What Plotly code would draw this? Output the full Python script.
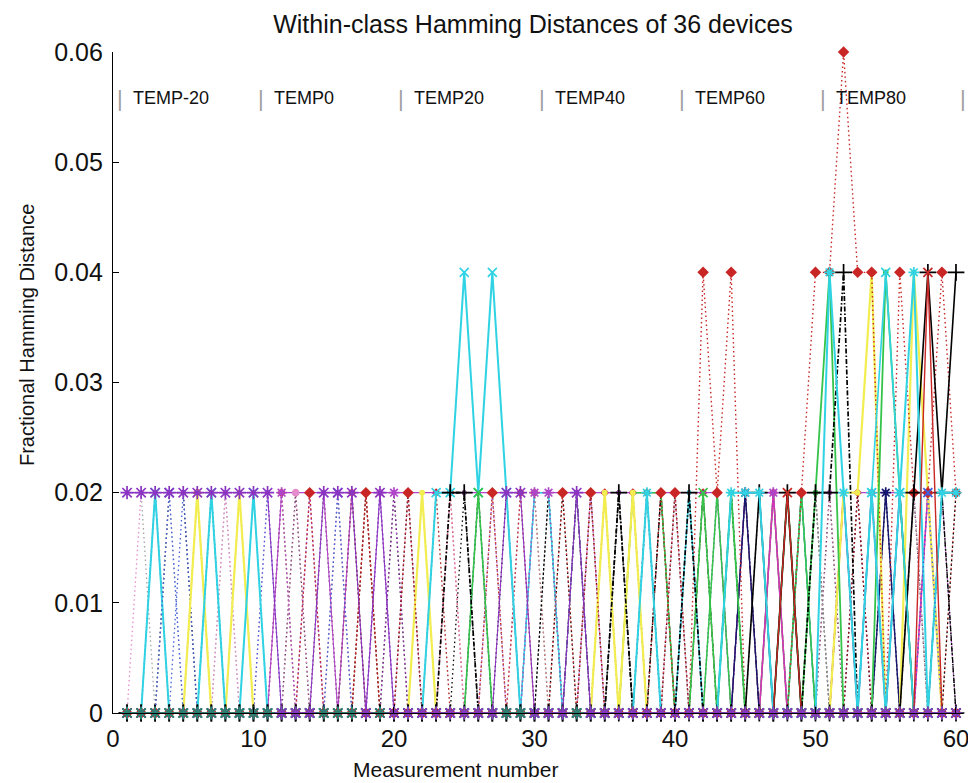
import plotly.graph_objects as go

# ---------------- data ----------------
measurement = list(range(1, 61))

y_ticks = [0, 0.01, 0.02, 0.03, 0.04, 0.05, 0.06]
y_ticktext = ["0", "0.01", "0.02", "0.03", "0.04", "0.05", "0.06"]
x_ticks = [0, 10, 20, 30, 40, 50, 60]

temp_names = ["TEMP-20", "TEMP0", "TEMP20", "TEMP40", "TEMP60", "TEMP80"]
temp_bounds = [0.5, 10.5, 20.5, 30.5, 40.5, 50.5, 60.5]

# fractional Hamming distance per device (36 devices x 60 measurements)
dev01 = [.02,.02,0,0,0,0,0,.02,0,0, 0,0,0,.02,0,0,0,0,0,0, 0,.02,0,0,0,0,0,0,.02,0,
         0,0,.02,0,0,0,0,0,0,.02, 0,0,0,0,0,.02,0,0,0,0, 0,.02,0,0,0,0,0,0,0,0]
dev02 = [0,.02,.02,0,0,0,0,0,0,0, .02,0,0,0,0,.02,0,0,0,0, .02,0,0,0,0,.02,0,0,0,0,
         0,0,0,0,.02,0,0,0,0,0, 0,0,.02,0,0,0,0,0,.02,0, 0,0,0,0,.02,0,0,0,0,0]
dev03 = [0,0,0,.02,.02,0,0,0,0,0, 0,0,.02,0,0,0,.02,0,0,0, 0,0,0,0,.02,0,0,0,0,0,
         .02,0,0,0,0,.02,0,.02,0,0, 0,0,0,.02,0,0,0,0,0,0, .02,0,0,0,0,.02,0,0,0,0]
dev04 = [0,0,.02,0,0,0,0,0,.02,0, 0,0,0,.02,0,0,0,0,.02,0, 0,0,0,0,0,0,.02,0,0,0,
         0,0,0,.02,0,0,0,0,0,0, .02,0,0,0,.02,0,0,0,0,0, 0,0,.02,0,0,0,0,0,.02,0]
dev05 = [0,0,0,0,0,.02,0,0,0,0, 0,.02,0,0,0,0,0,.02,0,0, 0,0,0,.02,0,0,0,0,0,.02,
         0,0,0,0,0,0,.02,0,0,0, 0,.02,0,0,0,0,.02,0,0,0, 0,0,0,.02,0,0,0,0,0,.02]
dev06 = [0,0,0,0,0,0,.02,0,0,0, 0,0,0,0,.02,0,0,0,0,.02, 0,0,0,0,0,0,0,.02,0,0,
         0,.02,0,0,0,0,0,0,.02,0, 0,0,0,.02,0,0,0,.02,0,0, 0,0,.02,0,0,0,.02,0,0,0]
dev07 = [0,0,0,0,0,0,0,0,0,.02, 0,0,0,0,0,.02,0,0,0,0, 0,0,.02,0,0,0,0,0,0,.02,
         0,0,0,0,.02,0,0,0,0,0, .02,0,0,0,0,.02,0,0,0,.02, 0,0,0,0,.02,0,0,.02,0,0]
dev08 = [0,0,0,0,0,0,0,0,0,0, 0,0,0,0,0,0,0,0,0,0, 0,0,0,0,0,0,0,0,0,0,
         0,0,.02,0,0,.02,0,0,.02,0, 0,.02,0,0,.02,0,0,0,.02,0, 0,.02,0,0,0,.02,0,0,.02,0]
dev09 = [0,0,0,0,.02,0,0,0,0,0, .02,0,0,0,0,0,0,0,.02,0, 0,0,0,0,0,.02,0,0,0,0,
         0,0,.02,0,0,0,0,.02,0,0, 0,0,.02,0,0,0,0,.02,0,0, 0,0,0,.02,0,0,0,0,0,0]
dev10 = [0,0,0,0,0,0,0,.02,0,0, 0,0,0,0,.02,0,0,0,0,0, 0,0,0,.02,0,0,0,0,.02,0,
         0,0,0,.02,0,0,0,0,0,.02, 0,0,0,0,0,0,.02,0,0,0, .02,0,0,0,0,0,.02,0,0,0]
dev11 = [0,0,0,0,0,0,0,0,0,0, 0,0,0,0,0,0,0,0,0,0, .02,0,0,0,0,.02,0,0,0,0,
         .02,0,0,0,0,0,.02,0,0,0, 0,0,0,.02,0,0,0,0,0,.02, 0,0,0,0,.02,0,0,0,0,.02]
dev12 = [0,0,0,0,0,0,0,0,0,0, 0,0,0,0,0,0,.02,0,0,0, 0,0,.02,0,0,0,0,0,.02,0,
         0,0,0,0,.02,0,0,.02,0,0, 0,0,0,0,.02,0,0,0,.02,0, 0,0,.02,0,0,0,0,.02,0,0]
dev13 = [0,0,0,.02,0,0,0,0,0,0, 0,.02,0,0,0,0,0,0,0,0, 0,0,0,0,0,0,.02,0,0,0,
         0,0,0,0,0,.02,0,0,0,0, 0,0,.02,0,0,0,0,0,0,.02, 0,0,0,0,0,0,.02,0,0,0]
dev14 = [0,0,0,0,0,0,0,0,0,0, 0,0,0,0,0,0,0,.02,0,0, 0,0,0,0,0,0,0,0,0,0,
         0,0,0,.02,0,0,0,0,0,.02, 0,0,0,0,0,0,.02,0,0,0, 0,.02,0,0,0,0,0,0,.02,0]
dev15 = [0,0,0,0,0,0,0,0,0,0, 0,.02,.02,.02,.02,0,.02,.02,.02,.02, .02,.02,.02,.02,.02,.02,.02,.02,0,.02,
         .02,.02,.02,.02,.02,.02,.02,.02,.02,.02, .02,.02,.02,0,.02,.02,.02,.02,.02,.02, .02,.02,.02,.02,.02,.02,.02,.02,.02,.02]
dev16 = [0,0,0,0,0,0,0,0,0,0, 0,0,0,0,0,0,0,0,0,0, 0,0,0,0,0,0,0,0,0,.02,
         .02,0,0,0,0,0,0,0,0,0, .02,0,0,0,0,0,0,0,.02,0, 0,0,0,0,0,.02,0,0,0,0]
dev17 = [0,0,0,0,0,0,0,0,0,0, 0,0,0,0,0,0,0,0,0,0, 0,0,0,0,0,0,0,0,0,0,
         0,0,0,0,0,0,.02,.02,.02,0, 0,0,.02,0,0,0,.02,0,.02,0, 0,0,0,0,0,0,0,0,0,0]
dev18 = [0,0,0,0,0,0,0,0,0,0, 0,0,0,0,0,0,0,0,0,0, 0,0,0,0,0,0,0,0,0,0,
         0,0,0,0,0,0,0,0,0,0, 0,0,0,0,0,0,.02,0,0,0, 0,.02,0,.02,0,.02,0,.02,0,0]
dev19 = [0,0,0,0,0,0,0,0,0,0, 0,0,.02,0,0,0,0,0,.02,0, 0,0,0,0,0,0,0,0,0,0,
         0,0,0,0,0,0,0,0,0,0, 0,0,0,0,0,0,0,0,0,0, 0,0,0,0,0,0,0,0,0,0]
dev20 = [0,0,0,0,0,0,0,0,0,0, 0,.02,0,0,0,0,0,0,0,.02, 0,0,0,0,0,0,0,0,0,.02,
         .02,0,0,0,0,0,0,0,0,0, 0,0,0,0,0,0,.02,0,0,0, 0,0,0,0,0,0,0,0,0,0]
dev21 = [0,0,0,0,0,0,0,0,0,0, 0,0,0,0,0,0,0,0,0,0, 0,0,0,0,0,0,0,0,0,0,
         0,0,0,0,0,0,0,0,0,0, 0,0,0,0,.02,0,0,0,0,0, 0,0,0,0,.02,0,0,0,0,0]
dev22 = [0,0,0,0,0,.02,0,0,.02,0, 0,0,0,0,0,0,0,0,0,0, 0,.02,0,0,0,0,0,0,0,0,
         0,0,0,0,.02,0,.02,0,0,0, 0,0,0,0,0,0,0,0,0,0, 0,0,0,0,0,0,0,0,0,0]
dev23 = [0,0,0,0,0,0,0,0,0,0, 0,0,0,0,0,0,0,0,0,0, 0,0,0,0,0,0,0,0,0,0,
         0,0,0,0,0,0,0,0,0,0, 0,0,0,0,0,0,0,0,0,0, 0,.02,.02,.04,0,0,.04,.02,0,0]
dev24 = [0,0,0,0,0,0,0,0,0,0, 0,0,0,.02,0,0,0,0,0,0, .02,0,0,0,0,0,0,0,0,0,
         0,.02,0,0,0,0,0,0,.02,0, 0,.04,.02,.04,0,0,0,0,0,0, 0,0,0,0,0,0,0,0,0,0]
dev25 = [0,0,0,0,0,0,0,0,0,0, 0,0,0,0,0,0,0,.02,0,0, 0,0,0,0,0,0,.02,0,0,0,
         0,0,0,.02,0,0,0,0,0,.02, 0,0,0,0,0,0,0,0,.02,.04, .04,.06,.04,.04,0,.04,.02,.02,.04,.02]
dev26 = [0,0,.02,0,0,0,.02,0,0,.02, 0,0,0,0,0,0,0,0,0,0, 0,0,.02,.02,.04,.02,.04,.02,0,0,
         0,0,0,0,0,0,0,0,0,0, 0,0,0,0,0,0,0,0,0,0, 0,0,0,0,0,0,0,0,0,0]
dev27 = [0,0,0,0,0,0,0,0,0,0, 0,0,0,0,0,0,0,0,0,0, 0,0,0,0,0,.02,0,0,0,0,
         0,0,0,0,0,0,0,0,0,0, 0,.02,0,0,0,0,0,0,0,0, 0,0,0,0,0,0,0,0,0,0]
dev28 = [0,0,0,0,0,0,0,0,0,0, 0,0,0,0,0,0,0,0,0,0, 0,0,0,0,0,0,0,0,0,0,
         0,0,0,0,0,0,0,0,0,0, 0,0,0,.02,0,0,0,.02,0,.02, .04,0,0,0,.04,.02,0,0,0,0]
dev29 = [0,0,0,0,0,0,0,0,0,0, 0,0,0,0,0,0,0,0,0,0, 0,0,0,.02,.02,0,0,0,0,0,
         0,0,0,0,0,.02,0,0,0,0, .02,0,0,0,0,0,0,0,0,.02, .02,.04,0,0,0,0,0,0,0,0]
dev30 = [0,0,0,0,0,0,0,0,0,0, 0,0,0,0,0,0,0,0,0,0, 0,0,0,0,0,0,0,0,0,0,
         0,0,0,0,0,0,0,0,0,0, 0,0,0,0,0,.02,0,.02,0,0, 0,0,0,0,0,0,.02,.04,.02,.04]
dev31 = [0,0,0,0,0,0,0,0,0,0, 0,0,0,0,0,0,0,0,0,0, 0,0,0,0,0,0,0,0,0,0,
         0,0,0,0,0,0,0,.02,0,0, 0,0,0,.02,.02,.02,0,0,0,0, .04,.02,0,.02,0,.02,.04,0,.02,.02]
dev32 = [0,0,0,0,0,0,0,0,0,0, 0,0,0,0,0,0,0,0,0,0, 0,0,0,0,0,0,0,0,0,0,
         0,0,0,0,0,0,0,0,0,0, 0,0,0,0,0,0,0,0,0,0, 0,0,0,.02,.04,.02,0,0,0,0]
dev33 = [0,0,0,.02,0,0,0,0,0,0, 0,0,0,0,0,.02,0,0,0,0, 0,0,0,0,0,0,0,0,0,0,
         0,0,0,0,0,0,0,0,0,0, 0,0,0,0,0,0,0,0,0,0, 0,0,0,0,0,0,0,.02,0,0]
dev34 = [0,0,0,0,0,0,0,0,0,0, 0,0,0,0,0,0,0,0,0,0, 0,0,0,0,0,0,0,0,0,0,
         0,0,0,0,0,0,0,0,0,0, 0,0,0,0,0,0,0,.02,0,0, 0,0,0,0,0,0,0,.04,0,0]
dev35 = [0,0,0,0,0,0,0,0,0,0, 0,0,0,0,0,0,0,0,0,0, 0,0,0,0,0,0,0,0,0,0,
         0,0,0,0,0,0,0,0,0,0, 0,0,0,0,0,0,0,0,0,0, 0,0,0,0,0,0,0,0,0,0]
dev36 = [.02,.02,.02,.02,.02,.02,.02,.02,.02,.02, .02,0,0,0,.02,.02,.02,0,.02,0, 0,0,0,0,0,0,0,.02,.02,0,
         0,0,.02,0,0,0,0,0,0,0, 0,0,0,0,0,0,0,0,0,0, 0,0,0,0,0,0,0,0,0,0]

devices = [dev01, dev02, dev03, dev04, dev05, dev06, dev07, dev08, dev09, dev10,
           dev11, dev12, dev13, dev14, dev15, dev16, dev17, dev18, dev19, dev20,
           dev21, dev22, dev23, dev24, dev25, dev26, dev27, dev28, dev29, dev30,
           dev31, dev32, dev33, dev34, dev35, dev36]

# ---------------- styles (color, dash, width, symbol, size) ----------------
RED = "#c92626"; BLACK = "#000000"; CYAN = "#2fd3e3"; YELLOW = "#f2ee50"
GREEN = "#35c44a"; MAG = "#e030b0"; PINK = "#e58ccc"; PURPLE = "#8b34c2"
VIOLET = "#b044c8"; TEAL = "#2b7f70"; NAVY = "#16166e"; BLUE = "#3f5fe0"; GREY = "#a4a4a4"
DOT = "1.5px,3px"
DASHDOT = "5px,2px,1.5px,2px"

styles = [
    (GREY, DOT, 1.3, "circle", 3), (PINK, DOT, 1.3, "circle", 3), (BLACK, DOT, 1.3, "circle", 3),
    (VIOLET, DOT, 1.3, "circle", 3), (RED, DOT, 1.3, "diamond", 5), (BLACK, DOT, 1.3, "circle", 3),
    (GREY, DOT, 1.3, "circle", 3), (BLACK, DASHDOT, 1.3, "circle", 3), (BLUE, DOT, 1.3, "circle", 3),
    (PINK, DOT, 1.3, "circle", 3), (BLACK, DOT, 1.3, "circle", 3), (RED, DOT, 1.3, "diamond", 5),
    (GREY, DOT, 1.3, "circle", 3), (BLACK, DOT, 1.3, "circle", 3), (VIOLET, "solid", 1.1, "circle", 3),
    (CYAN, "solid", 1.5, "circle", 3), (GREEN, "solid", 1.5, "circle", 3),
    (MAG, "solid", 1.6, "circle", 4), (PINK, DOT, 1.3, "circle", 6), (VIOLET, DOT, 1.3, "asterisk-open", 9),
    (NAVY, "solid", 1.4, "asterisk-open", 9), (YELLOW, "solid", 2.2, "circle", 4), (YELLOW, "solid", 2.2, "circle", 4),
    (RED, DOT, 1.4, "diamond", 7), (RED, DOT, 1.4, "diamond", 7), (CYAN, "solid", 2.0, "x-thin-open", 9),
    (GREEN, "solid", 1.6, "x-thin-open", 9), (GREEN, "solid", 1.8, "circle", 4), (BLACK, DASHDOT, 1.7, "cross-thin-open", 12),
    (BLACK, "solid", 1.6, "cross-thin-open", 12), (CYAN, "solid", 2.0, "asterisk-open", 9), (CYAN, "solid", 1.6, "x-thin-open", 9),
    (BLUE, DOT, 1.3, "x-thin-open", 9), (RED, "solid", 1.4, "x-thin-open", 9),
    (TEAL, "solid", 1.4, "asterisk-open", 11), (PURPLE, "solid", 1.1, "asterisk-open", 11),
]

fig = go.Figure()
for vals, (col, dash, w, sym, ms) in zip(devices, styles):
    fig.add_trace(go.Scatter(
        x=measurement, y=vals, mode="lines+markers",
        line=dict(color=col, width=w, dash=dash),
        marker=dict(symbol=sym, size=ms, color=col, line=dict(color=col, width=1.7)),
        cliponaxis=False, hoverinfo="skip", showlegend=False))

FONT = "Liberation Sans, Arial, sans-serif"
annotations = []
for b in temp_bounds:
    annotations.append(dict(x=b, y=0.0558, xref="x", yref="y", text="|", showarrow=False,
                            font=dict(family=FONT, size=22, color="#a0a0a0"), xanchor="center", yanchor="middle"))
for b, name in zip(temp_bounds, temp_names):
    annotations.append(dict(x=b, y=0.0558, xref="x", yref="y", text=name, showarrow=False, xshift=11,
                            font=dict(family=FONT, size=18, color="#111"), xanchor="left", yanchor="middle"))
annotations.append(dict(x=0.4035, y=-0.085, xref="paper", yref="paper", text="Measurement number",
                        showarrow=False, font=dict(family=FONT, size=21, color="#111"),
                        xanchor="center", yanchor="middle"))
annotations.append(dict(x=-0.101, y=0.572, xref="paper", yref="paper", text="Fractional Hamming Distance",
                        showarrow=False, textangle=-90, font=dict(family=FONT, size=20, color="#111"),
                        xanchor="center", yanchor="middle"))

# the page body adds an 8px offset, so the figure is 8px smaller than the window
fig.update_layout(
    width=968, height=775,
    margin=dict(l=105, r=13, t=44, b=70),
    paper_bgcolor="white", plot_bgcolor="white",
    showlegend=False,
    title=dict(text="Within-class Hamming Distances of 36 devices", x=525 / 968, xref="container",
               xanchor="center", y=1 - 16 / 775, yref="container", yanchor="middle",
               font=dict(family=FONT, size=25, color="#111")),
    annotations=annotations,
)
fig.update_xaxes(range=[0, 60.5], tickvals=x_ticks, ticks="inside", ticklen=6, tickcolor="black",
                 showline=True, linecolor="black", linewidth=1.2, showgrid=False, zeroline=False,
                 automargin=False, ticklabelstandoff=4,
                 tickfont=dict(family=FONT, size=24, color="#111"))
fig.update_yaxes(range=[0, 0.06], tickvals=y_ticks, ticktext=y_ticktext, ticks="inside", ticklen=6,
                 tickcolor="black", showline=True, linecolor="black", linewidth=1.2, showgrid=False,
                 zeroline=False, automargin=False, ticklabelstandoff=4,
                 tickfont=dict(family=FONT, size=25, color="#111"))

fig.write_html("out.html")
